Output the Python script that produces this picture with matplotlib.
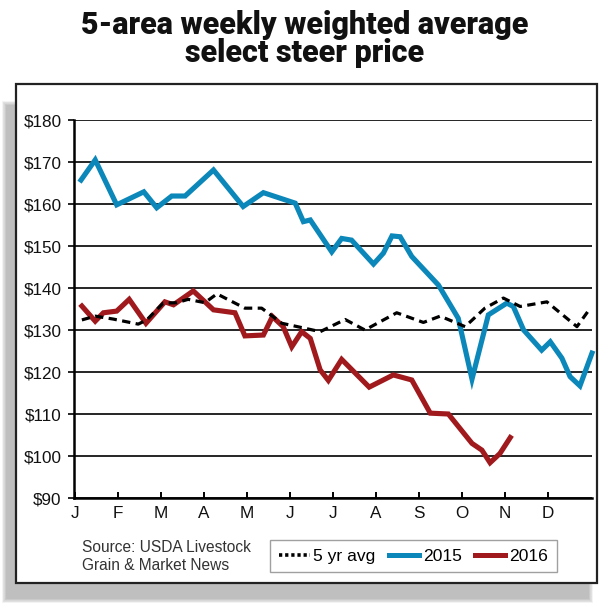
import matplotlib
matplotlib.use("Agg")
import matplotlib.pyplot as plt
from matplotlib.patches import Rectangle
from matplotlib.lines import Line2D

# ---- data (x in months from Jan 1, y in $/cwt) ----
months = ["J", "F", "M", "A", "M", "J", "J", "A", "S", "O", "N", "D"]
y_ticks = [90, 100, 110, 120, 130, 140, 150, 160, 170, 180]
y_labels = ["$90", "$100", "$110", "$120", "$130", "$140", "$150", "$160", "$170", "$180"]

x2015 = [0.14, 0.47, 0.97, 1.60, 1.90, 2.25, 2.56, 3.22, 3.91, 4.38, 5.12, 5.31, 5.47,
         5.97, 6.20, 6.43, 6.94, 7.17, 7.37, 7.56, 7.83, 8.45, 8.91, 9.23, 9.61, 10.04,
         10.19, 10.43, 10.85, 11.05, 11.32, 11.51, 11.74, 12.02]
y2015 = [165.7, 170.5, 159.8, 162.9, 159.1, 161.9, 161.9, 168.1, 159.4, 162.7, 160.2, 155.8, 156.2,
         148.6, 151.8, 151.4, 145.7, 148.3, 152.4, 152.2, 147.5, 140.7, 132.8, 118.3, 133.6, 136.4,
         135.6, 130.0, 125.2, 127.2, 123.3, 118.9, 116.7, 124.5]

x2016 = [0.16, 0.47, 0.66, 0.97, 1.26, 1.65, 2.09, 2.29, 2.75, 3.22, 3.72, 3.95, 4.38, 4.59,
         4.84, 5.04, 5.27, 5.47, 5.70, 5.89, 6.20, 6.84, 7.40, 7.83, 8.26, 8.68, 9.23, 9.46,
         9.65, 9.88, 10.12]
y2016 = [135.7, 132.1, 134.1, 134.5, 137.3, 131.6, 136.7, 136.0, 139.3, 134.8, 134.1, 128.6, 128.8, 133.2,
         130.8, 126.0, 129.6, 128.0, 120.5, 118.0, 123.0, 116.4, 119.3, 118.1, 110.2, 110.0, 103.0, 101.4,
         98.4, 100.6, 104.4]

x_avg = [0.16, 0.47, 0.89, 1.47, 1.67, 2.05, 2.37, 2.63, 3.02, 3.30, 3.95, 4.34, 4.81, 5.35,
         5.70, 6.28, 6.74, 7.48, 8.10, 8.49, 9.07, 9.53, 9.96, 10.35, 10.97, 11.67, 11.98]
y_avg = [132.4, 133.3, 132.6, 131.4, 132.4, 136.4, 136.5, 137.3, 136.5, 138.6, 135.2, 135.2, 131.6, 130.4,
         129.6, 132.5, 130.0, 134.1, 131.8, 133.3, 130.8, 135.2, 137.6, 135.6, 136.7, 130.8, 135.2]

BLUE = "#0b87b9"
RED = "#a0191d"
W, H = 610, 607

lab_font = ["Liberation Sans Narrow", "Liberation Sans", "DejaVu Sans"]

fig = plt.figure(figsize=(W / 100, H / 100), dpi=100)
fig.patch.set_facecolor("white")

def fx(px):
    return px / W

def fy(py):
    return 1 - py / H

# drop shadow (soft, lower-left)
for i in range(8):
    g = 8 - i
    fig.patches.append(Rectangle((fx(7 - g * 0.6), fy(598 + g * 0.6)),
                                 fx(581 + g * 1.2), (590 - 98 + g * 1.2) / H,
                                 transform=fig.transFigure, facecolor="#9a9a9a",
                                 edgecolor="none", alpha=0.11, zorder=0))
# white frame
fig.patches.append(Rectangle((fx(16), fy(583)), fx(597 - 16), (583 - 84) / H,
                             transform=fig.transFigure, facecolor="white",
                             edgecolor="#222222", linewidth=1.6, zorder=1))

ax = fig.add_axes([fx(74), fy(498), fx(592 - 74), (498 - 120) / H])
ax.set_zorder(2)
ax.patch.set_alpha(0)

ax.plot(x2015, y2015, color=BLUE, lw=3.7, solid_joinstyle="miter", clip_on=False, zorder=3)
ax.plot(x2016, y2016, color=RED, lw=3.7, solid_joinstyle="miter", clip_on=False, zorder=4)
ax.plot(x_avg, y_avg, color="black", lw=2.3, linestyle=(0, (2.6, 1.7)), clip_on=False, zorder=5)

ax.set_xlim(-0.023, 12.02)
ax.set_ylim(90, 180)
ax.set_yticks(y_ticks)
ax.set_yticklabels(y_labels, family=lab_font, fontsize=12.3, color="#111111")
ax.set_xticks(range(12))
ax.set_xticklabels(months, family=lab_font, fontsize=12.3, color="#111111")
ax.tick_params(axis="y", direction="out", length=4.5, width=1.2, pad=4.5, color="black")
ax.tick_params(axis="x", direction="in", length=4, width=1.4, pad=6, color="black")
ax.grid(axis="y", color="black", lw=1.2, zorder=1)
ax.set_axisbelow(True)
for s in ["top", "right"]:
    ax.spines[s].set_visible(False)
ax.spines["left"].set_linewidth(1.8)
ax.spines["bottom"].set_linewidth(1.8)

# title
title_font = ["Roboto", "DejaVu Sans"]
fig.text(0.5, fy(34), "5-area weekly weighted average", ha="center", va="baseline",
         family=title_font, fontweight="heavy", fontsize=22, color="#111111")
fig.text(0.5, fy(62), "select steer price", ha="center", va="baseline",
         family=title_font, fontweight="heavy", fontsize=22, color="#111111")

# source
fig.text(fx(82), fy(547), "Source: USDA Livestock", ha="left", va="center",
         family=lab_font, fontsize=11.2, color="#333333")
fig.text(fx(82), fy(565), "Grain & Market News", ha="left", va="center",
         family=lab_font, fontsize=11.2, color="#333333")

# legend
handles = [Line2D([], [], color="black", lw=2.6, linestyle=(0, (0.9, 0.8))),
           Line2D([], [], color=BLUE, lw=3.6),
           Line2D([], [], color=RED, lw=3.6)]
leg = fig.legend(handles, ["5 yr avg", "2015", "2016"], loc="center",
                 bbox_to_anchor=(fx((270 + 557) / 2), fy(556)), ncol=3,
                 prop={"family": lab_font, "size": 12.6}, frameon=True, fancybox=False,
                 edgecolor="#888888", handlelength=1.75, handletextpad=0.2,
                 columnspacing=0.75, borderpad=0.5, borderaxespad=0)
leg.get_frame().set_linewidth(1.0)
leg.set_zorder(6)

fig.savefig("out.png", dpi=100, facecolor="white")
